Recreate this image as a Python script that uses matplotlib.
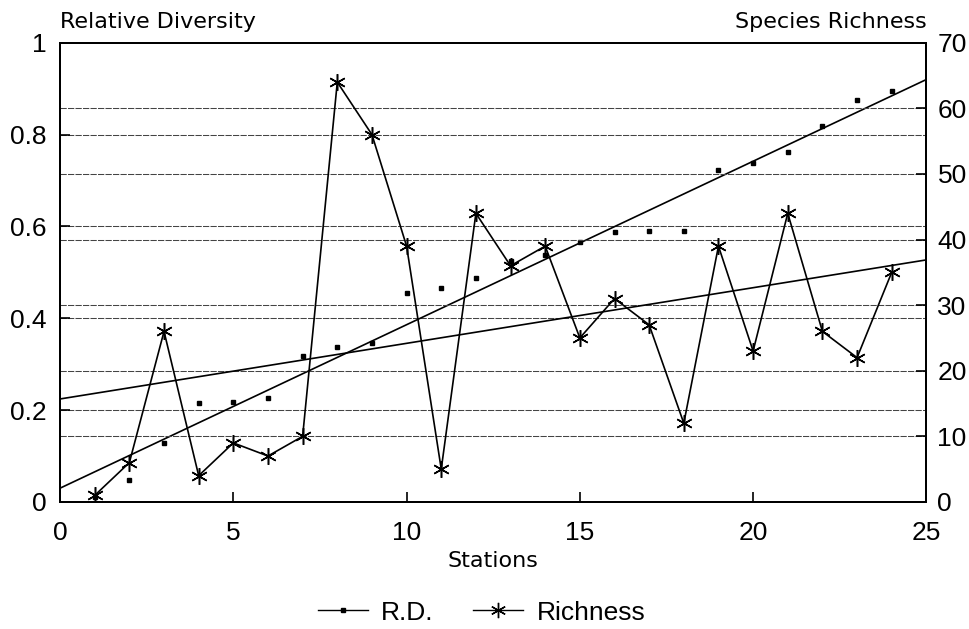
import matplotlib
matplotlib.use("Agg")
import matplotlib.pyplot as plt
from matplotlib.lines import Line2D

plt.rcParams["font.family"] = ["Liberation Sans", "DejaVu Sans"]

stations = list(range(1, 25))
rel_div = [0.01, 0.048, 0.128, 0.216, 0.218, 0.226, 0.317, 0.338, 0.347, 0.455,
           0.466, 0.487, 0.524, 0.538, 0.566, 0.588, 0.590, 0.590, 0.723, 0.738,
           0.762, 0.819, 0.876, 0.896]
richness = [1, 6, 26, 4, 9, 7, 10, 64, 56, 39, 5, 44, 36, 39, 25, 31, 27, 12,
            39, 23, 44, 26, 22, 35]

trend_x = [0, 25]
rd_trend = [0.03, 0.92]
rich_trend = [15.7, 36.9]

left_ticks = [0, 0.2, 0.4, 0.6, 0.8, 1]
left_labels = ["0", "0.2", "0.4", "0.6", "0.8", "1"]
right_ticks = [0, 10, 20, 30, 40, 50, 60, 70]
x_ticks = [0, 5, 10, 15, 20, 25]

asterisk = (6, 2, 0)
grid_style = dict(color="#444444", lw=0.75, ls=(0, (6, 1.2)))

fig = plt.figure(figsize=(9.69, 6.29), dpi=100)
ax = fig.add_axes([0.062, 0.202, 0.894, 0.730])
ax2 = ax.twinx()

ax.set_xlim(0, 25)
ax.set_ylim(0, 1)
ax2.set_ylim(0, 70)

for t in left_ticks[1:-1]:
    ax.axhline(t, zorder=0, **grid_style)
for t in right_ticks[1:-1]:
    ax2.axhline(t, zorder=0, **grid_style)

ax.plot(stations, rel_div, ls="none", marker="s", ms=3.2, color="black")
ax.plot(trend_x, rd_trend, color="black", lw=1.2)
ax2.plot(stations, richness, color="black", lw=1.2, marker=asterisk,
         ms=12, mew=1.1)
ax2.plot(trend_x, rich_trend, color="black", lw=1.2)

ax.set_xticks(x_ticks)
ax.set_yticks(left_ticks)
ax.set_yticklabels(left_labels)
ax2.set_yticks(right_ticks)

ax.tick_params(direction="in", length=7, width=1.2, labelsize=19, pad=10)
ax.tick_params(axis="x", pad=14)
ax2.tick_params(direction="in", length=7, width=1.2, labelsize=19, pad=8)

for a in (ax, ax2):
    for s in a.spines.values():
        s.set_linewidth(1.4)

ax.text(0, 1.046, "Relative Diversity", transform=ax.transAxes,
        ha="left", va="center", fontsize=16, family="DejaVu Sans")
ax.text(1, 1.046, "Species Richness", transform=ax.transAxes,
        ha="right", va="center", fontsize=16, family="DejaVu Sans")
ax.set_xlabel("Stations", fontsize=16, family="DejaVu Sans", labelpad=4)

handles = [
    Line2D([], [], color="black", lw=1.0, marker="s", ms=3),
    Line2D([], [], color="black", lw=1.0, marker=asterisk, ms=11, mew=1.0),
]
fig.legend(handles, ["R.D.", "Richness"], loc="center", ncol=2,
           bbox_to_anchor=(0.497, 0.026), frameon=False, fontsize=19,
           handlelength=1.9, handletextpad=0.5, columnspacing=1.5)

fig.savefig("out.png", dpi=100)
